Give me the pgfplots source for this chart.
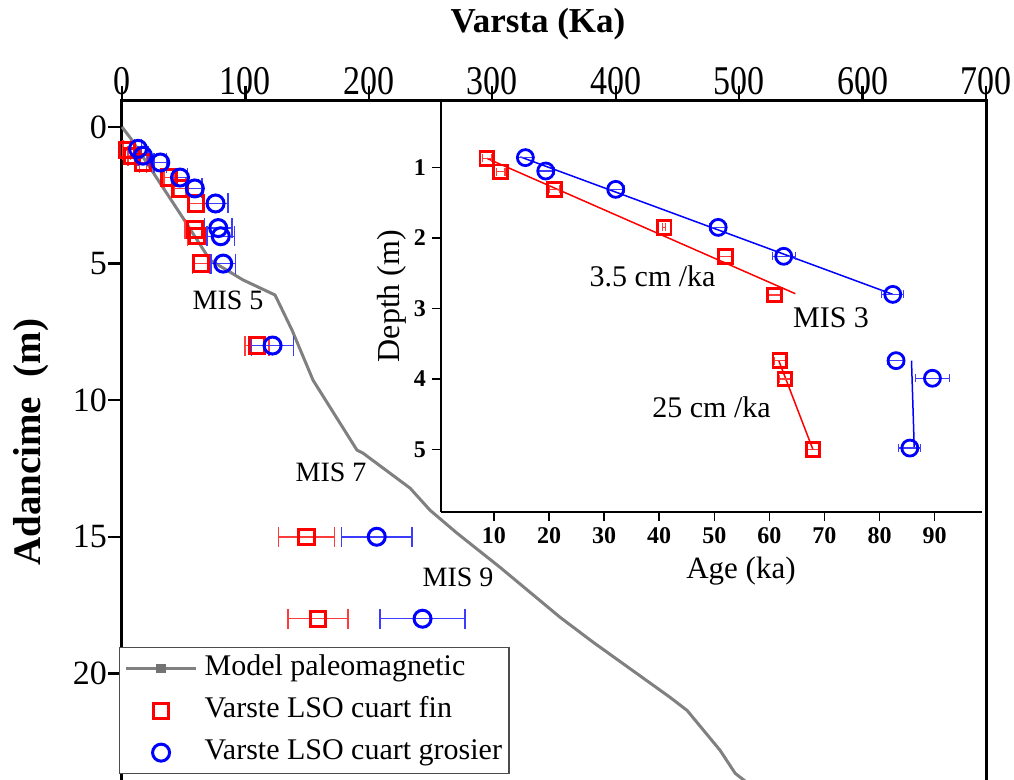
\documentclass[border=0pt]{standalone}
\usepackage{fontspec}
\setmainfont{Liberation Serif}
\usepackage{pgfplots}
\pgfplotsset{compat=1.18}

\definecolor{modelgray}{RGB}{128,128,128}
\definecolor{errred}{RGB}{255,60,60}
\definecolor{errblue}{RGB}{60,60,255}

\pgfplotsset{
  scatleg/.style={legend image code/.code={\draw[##1] plot coordinates {(17.5pt,0pt)};}},
  lineleg/.style={legend image code/.code={
    \draw[modelgray, line width=1.5pt] (0pt,0pt) -- (35pt,0pt);
    \fill[black!55] (15.8pt,-1.6pt) rectangle (19.2pt,1.6pt);}},
}

% 1 px of the reference = 0.5pt
\begin{document}
\begin{tikzpicture}
\begin{axis}[
  at={(61pt,-50pt)}, anchor=north west,
  scale only axis, width=432pt, height=345pt,
  xmin=0, xmax=700, ymin=-0.988, ymax=24.27,
  y dir=reverse,
  xtick={0,100,...,700}, ytick={0,5,10,15,20},
  xtick pos=right, xticklabel pos=right, ytick pos=left,
  tick align=outside, major tick length=7pt,
  axis line style={line width=1.5pt},
  every tick/.style={black, line width=1.2pt},
  /pgf/number format/assume math mode=true,
  ticklabel style={font=\fontsize{17}{20}\selectfont},
  xticklabel style={anchor=base, yshift=-4.5pt, yscale=1.2},
  yticklabel style={anchor=east, xshift=3pt},
  ylabel={Adancime\ \ (m)},
  ylabel style={font=\bfseries\fontsize{19.5}{22}\selectfont,
    at={(axis description cs:0,0.504)}, anchor=center, yshift=45.5pt},
  legend style={at={(-0.0035,0.2072)}, anchor=north west,
    draw=black!70, line width=0.6pt, fill=white,
    font=\fontsize{15}{17}\selectfont, inner sep=2.5pt, row sep=5pt,
    column sep=2.5pt,
    nodes={inner sep=1pt, text height=10.5pt, text depth=3.5pt}},
  legend cell align=left,
  clip=false,
]
\addplot[modelgray, line width=1.5pt, no marks, lineleg]
  coordinates {
  (0,0) (8.1,0.48) (30.8,2.05) (49.4,3.33) (71.3,4.87) (98.1,5.60)
  (124,6.15) (137.8,7.44) (154.8,9.27) (190.4,11.83) (195.3,11.94)
  (233.4,13.22) (249.6,14.03) (271.5,14.87) (306.3,16.12) (355,17.95)
  (381.7,18.86) (444.1,20.88) (457.9,21.36) (484.6,22.82) (496.8,23.66)
  (515,24.3)};
\addlegendentry{Model paleomagnetic}

\addplot[red, only marks, mark=square, mark size=3.8pt,
  mark options={line width=1.5pt}, scatleg,
  error bars/.cd, x dir=both, x explicit,
  error bar style={errred, line width=0.75pt},
  error mark options={errred, mark size=5pt, line width=0.75pt, rotate=90}]
  coordinates {
  (4,0.85) +- (3,0)   (8,1.05) +- (3,0)   (17,1.3) +- (3,0)
  (38,1.85) +- (4,0)  (47,2.25) +- (5,0)  (60,2.8) +- (6,0)
  (59,3.75) +- (8,0)  (61,4.0) +- (8,0)   (64,5.0) +- (7,0)
  (109.2,8.0) +- (9.7,0) (149.4,15.0) +- (22.7,0) (158.6,18.0) +- (24.3,0)};
\addlegendentry{Varste LSO cuart fin}

\addplot[blue, only marks, mark=o, mark size=4.25pt,
  mark options={line width=1.5pt}, scatleg,
  error bars/.cd, x dir=both, x explicit,
  error bar style={errblue, line width=0.75pt},
  error mark options={errblue, mark size=5pt, line width=0.75pt, rotate=90}]
  coordinates {
  (13,0.8) +- (3,0)   (17,1.05) +- (4,0)  (31,1.3) +- (5,0)
  (47,1.85) +- (6,0)  (59,2.25) +- (6,0)  (75.8,2.8) +- (10,0)
  (78,3.7) +- (11,0)  (80,4.0) +- (11,0)  (82,5.0) +- (10,0)
  (122,8.0) +- (17,0) (206.4,15.0) +- (28.4,0) (243.5,18.0) +- (34.4,0)};
\addlegendentry{Varste LSO cuart grosier}

\node[font=\fontsize{14}{16}\selectfont] at (axis cs:85.9,6.34) {MIS 5};
\node[font=\fontsize{14}{16}\selectfont] at (axis cs:169.4,12.64) {MIS 7};
\node[font=\fontsize{14}{16}\selectfont] at (axis cs:272.3,16.48) {MIS 9};
\node[font=\bfseries\fontsize{17.5}{20}\selectfont, anchor=base, yshift=34pt]
  at (axis description cs:0.4815,1) {Varsta (Ka)};
\end{axis}

% inset
\begin{axis}[
  at={(220.5pt,-50.5pt)}, anchor=north west,
  scale only axis, width=270.5pt, height=205.5pt,
  xmin=0.38, xmax=98.6, ymin=0.057, ymax=5.887,
  y dir=reverse,
  axis x line=bottom, axis y line=left,
  axis line style={-, line width=1pt},
  xtick={10,20,...,90}, ytick={1,2,3,4,5},
  tick align=outside, major tick length=4.5pt,
  every tick/.style={black, line width=0.8pt},
  /pgf/number format/assume math mode=true,
  ticklabel style={font=\bfseries\fontsize{12}{14}\selectfont},
  xticklabel style={anchor=base, yshift=-11pt},
  yticklabel style={anchor=east, xshift=0.5pt},
  xlabel={Age (ka)},
  xlabel style={font=\fontsize{15.5}{18}\selectfont,
    at={(axis description cs:0.5545,0)}, anchor=base, yshift=-33pt},
  ylabel={Depth (m)},
  ylabel style={font=\fontsize{16}{18}\selectfont,
    at={(axis description cs:0,0.5255)}, anchor=center, yshift=24.5pt},
  clip=false,
]
\addplot[red, line width=0.75pt, no marks] coordinates {(8.7,0.87) (64.7,2.79)};
\addplot[red, line width=0.75pt, no marks] coordinates {(61.7,3.74) (67.9,5.0)};
\addplot[blue, line width=0.75pt, no marks] coordinates {(14.8,0.85) (82.4,2.80)};
\addplot[blue, line width=0.75pt, no marks] coordinates {(85.8,3.74) (86.3,4.98)};

\addplot[red, only marks, mark=square, mark size=3.4pt,
  mark options={line width=1.4pt},
  error bars/.cd, x dir=both, x explicit,
  error bar style={errred, line width=0.6pt},
  error mark options={errred, mark size=2pt, line width=0.6pt, rotate=90}]
  coordinates {
  (8.7,0.87) +- (0.8,0)  (11.2,1.06) +- (0.8,0) (21.0,1.31) +- (1,0)
  (40.9,1.85) +- (0.3,0) (52.0,2.26) +- (1.2,0) (60.9,2.81) +- (1.2,0)
  (61.9,3.74) +- (1,0)   (62.8,4.0) +- (1,0)    (67.9,5.0) +- (1,0)};

\addplot[blue, only marks, mark=o, mark size=4pt,
  mark options={line width=1.4pt},
  error bars/.cd, x dir=both, x explicit,
  error bar style={errblue, line width=0.6pt},
  error mark options={errblue, mark size=2pt, line width=0.6pt, rotate=90}]
  coordinates {
  (15.7,0.86) +- (1.5,0) (19.4,1.05) +- (1.5,0) (32.1,1.31) +- (1.5,0)
  (50.7,1.85) +- (1.5,0) (62.6,2.26) +- (2.1,0) (82.4,2.80) +- (2,0)
  (83.0,3.74) +- (1.5,0) (89.6,3.99) +- (3.1,0) (85.5,4.98) +- (2,0)};

\node[font=\fontsize{15}{17}\selectfont] at (axis cs:71.2,3.13) {MIS 3};
\node[font=\fontsize{15}{17}\selectfont] at (axis cs:38.8,2.54) {3.5 cm /ka};
\node[font=\fontsize{15}{17}\selectfont] at (axis cs:49.5,4.40) {25 cm /ka};
\end{axis}

\pgfresetboundingbox
\path (0pt,0pt) rectangle (507pt,-390pt);
\end{tikzpicture}
\end{document}
